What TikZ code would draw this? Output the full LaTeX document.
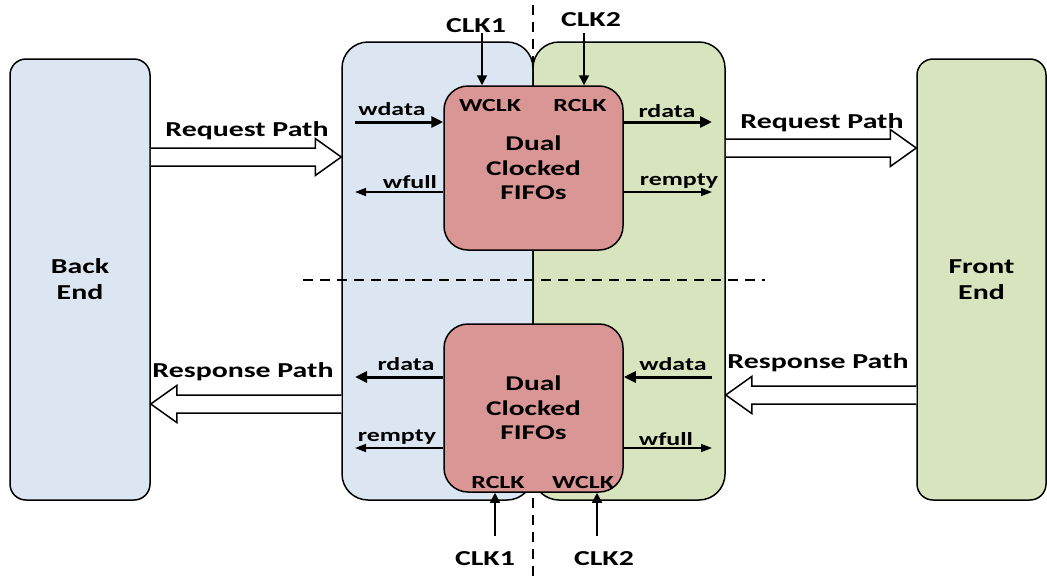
\documentclass[tikz,border=0pt]{standalone}
\usepackage{fontspec}
\setmainfont{Carlito}[FakeStretch=1.4]
\usetikzlibrary{calc,arrows.meta}

\definecolor{domblue}{HTML}{DCE6F2}
\definecolor{domgreen}{HTML}{D7E4BD}
\definecolor{fifored}{HTML}{D99694}

% fat hollow arrow between two coordinates, #3 = +1 (to the right) or -1
\newcommand{\fatarrow}[3]{%
  \draw[fatarr] ($(#1)+(0,-9)$) -- ($(#2)+(-26*#3,-9)$) -- ++(0,-9.5)
    -- (#2) -- ($(#2)+(-26*#3,18.5)$) -- ++(0,-9.5) -- ($(#1)+(0,9)$);}

\begin{document}
\begin{tikzpicture}[x=1pt,y=-1pt,
  every node/.style={inner sep=0pt, align=center,
    font=\bfseries\fontsize{21.3}{26}\selectfont},
  port/.style={anchor=base, font=\bfseries\fontsize{18.5}{21}\selectfont},
  biglabel/.style={anchor=base},
  endbox/.style={draw, line width=1.5pt, rounded corners=16pt,
    minimum height=441pt},
  dombox/.style={draw, line width=1.5pt, rounded corners=26pt,
    minimum height=458pt},
  fifo/.style={draw, line width=1.5pt, rounded corners=24pt, fill=fifored,
    minimum width=179pt, font=\bfseries\fontsize{21}{24.5}\selectfont},
  busarr/.style={line width=3pt, -{Triangle[length=12pt,width=11pt]}},
  sigarr/.style={line width=1.5pt, -{Triangle[length=11pt,width=8pt]}},
  clkarr/.style={line width=1.5pt, -{Triangle[length=10pt,width=10pt]}},
  fatarr/.style={draw, line width=1.5pt, fill=white, line join=miter},
  divider/.style={line width=2pt, dash pattern=on 10pt off 7pt}
]

  \useasboundingbox (0,0) rectangle (1047,576);

  % Clock domain border
  \draw[divider] (533,5) -- (533,576);

  % Back end / front end
  \node[endbox, fill=domblue, minimum width=140pt] (backend) at (80,279.5) {Back\\End};
  \node[endbox, fill=domgreen, minimum width=129pt] (frontend) at (981.5,279.5) {Front\\End};

  % The two clock domains
  \node[dombox, fill=domblue, minimum width=191pt] (leftdom) at (437.5,271) {};
  \node[dombox, fill=domgreen, minimum width=192pt] (rightdom) at (629,271) {};

  % Split between request and response side
  \draw[divider] (303,280) -- (765,280);

  % FIFOs
  \node[fifo, minimum height=164pt] (fifotop) at (533.5,168) {Dual\\Clocked\\FIFOs};
  \node[fifo, minimum height=168pt] (fifobot) at (533.5,408) {Dual\\Clocked\\FIFOs};

  % Request and response paths
  \coordinate (rqa) at (backend.east |- 0,157);
  \coordinate (rqb) at (leftdom.west |- 0,157);
  \coordinate (rqc) at (rightdom.east |- 0,148);
  \coordinate (rqd) at (frontend.west |- 0,148);
  \coordinate (rsa) at (leftdom.west |- 0,404);
  \coordinate (rsb) at (backend.east |- 0,404);
  \coordinate (rsc) at (frontend.west |- 0,395);
  \coordinate (rsd) at (rightdom.east |- 0,395);
  \fatarrow{rqa}{rqb}{1}
  \fatarrow{rqc}{rqd}{1}
  \fatarrow{rsa}{rsb}{-1}
  \fatarrow{rsc}{rsd}{-1}
  \node[biglabel] (rqlbl1) at (247,136) {Request Path};
  \node[biglabel] (rqlbl2) at (822,128) {Request Path};
  \node[biglabel] (rslbl1) at (243,377) {Response Path};
  \node[biglabel] (rslbl2) at (818,368) {Response Path};

  % Upper FIFO: clocks
  \node[biglabel] (clk1t) at (476,32) {CLK1};
  \node[biglabel] (clk2t) at (591,26) {CLK2};
  \coordinate (ck1t) at (482,33);
  \coordinate (ck2t) at (584,33);
  \draw[clkarr] (ck1t) -- (ck1t |- fifotop.north);
  \draw[clkarr] (ck2t) -- (ck2t |- fifotop.north);
  \node[port] (wclkt) at (490,111) {WCLK};
  \node[port] (rclkt) at (580,111) {RCLK};

  % Upper FIFO: ports
  \coordinate (wdt) at (355,122);
  \coordinate (wft) at (355,192);
  \coordinate (rdt) at (712,122);
  \coordinate (ret) at (712,192);
  \draw[busarr] (wdt) -- (wdt -| fifotop.west);
  \draw[sigarr] (wft -| fifotop.west) -- (wft);
  \draw[busarr] (rdt -| fifotop.east) -- (rdt);
  \draw[sigarr] (ret -| fifotop.east) -- (ret);
  \node[port] (wdatat) at (392,115) {wdata};
  \node[port] (wfullt) at (410,188) {wfull};
  \node[port] (rdatat) at (667,117) {rdata};
  \node[port] (remptyt) at (679,185) {rempty};

  % Lower FIFO: ports
  \coordinate (rdb) at (355,377);
  \coordinate (reb) at (355,448);
  \coordinate (wdb) at (712,377);
  \coordinate (wfb) at (712,448);
  \draw[busarr] (rdb -| fifobot.west) -- (rdb);
  \draw[sigarr] (reb -| fifobot.west) -- (reb);
  \draw[busarr] (wdb) -- (wdb -| fifobot.east);
  \draw[sigarr] (wfb -| fifobot.east) -- (wfb);
  \node[port] (rdatab) at (406,370) {rdata};
  \node[port] (remptyb) at (397,441) {rempty};
  \node[port] (wdatab) at (673,370) {wdata};
  \node[port] (wfullb) at (666,445) {wfull};

  % Lower FIFO: clocks
  \node[port] (rclkb) at (498,488) {RCLK};
  \node[port] (wclkb) at (583,488) {WCLK};
  \coordinate (ck1b) at (495,536);
  \coordinate (ck2b) at (597,536);
  \draw[clkarr] (ck1b) -- (ck1b |- fifobot.south);
  \draw[clkarr] (ck2b) -- (ck2b |- fifobot.south);
  \node[biglabel] (clk1b) at (485,565) {CLK1};
  \node[biglabel] (clk2b) at (604,565) {CLK2};

\end{tikzpicture}
\end{document}
